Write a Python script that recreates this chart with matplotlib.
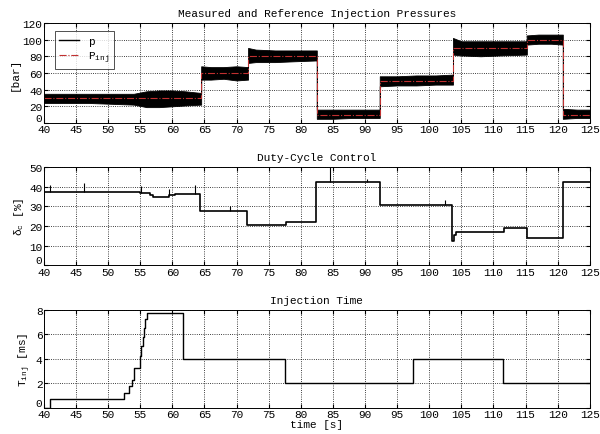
import matplotlib.pyplot as plt
import numpy as np

plt.rcParams['font.family'] = 'Liberation Mono'
plt.rcParams['font.size'] = 8
plt.rcParams['mathtext.fontset'] = 'custom'
plt.rcParams['mathtext.rm'] = 'Liberation Mono'
plt.rcParams['mathtext.it'] = 'Liberation Mono'

# Measured pressure band (low / high envelope) and reference pressure
p_time = [40, 47, 54, 56, 58, 60, 62, 64.5, 64.5, 66, 68, 70, 71.8, 71.8, 73, 76, 79, 82.5,
          82.5, 85, 88, 92.3, 92.3, 95, 98, 101, 103.7, 103.7, 105, 108, 111, 115.2,
          115.2, 117, 119, 120.8, 120.8, 123, 125]
p_low = [24, 24, 22, 19, 19, 20, 21, 22, 52, 52, 53, 51, 52, 72, 73, 73, 74, 75,
         5, 5, 6, 6, 44, 45, 45, 46, 46, 82, 81, 80, 81, 82,
         94, 95, 95, 94, 5, 6, 6]
p_high = [35, 35, 35, 38, 39, 39, 38, 36, 68, 67, 67, 68, 67, 90, 88, 87, 87, 87,
          16, 16, 16, 16, 56, 56, 57, 57, 58, 102, 98, 98, 98, 98,
          105, 106, 106, 106, 17, 16, 16]
ref_time = [40, 64.5, 71.8, 82.5, 92.3, 103.7, 115.2, 120.8, 125]
ref_val = [30, 60, 80, 10, 50, 90, 100, 10, 10]

# Duty-cycle control
d_time = [40, 55, 56.5, 57, 59.5, 60.5, 64.3, 71.7, 77.7, 82.3, 92.3, 103.5, 103.8, 104.2,
          111.7, 115.3, 120.8, 125]
d_val = [37, 36.5, 35.5, 34.5, 35.5, 36, 27.5, 20.5, 22, 42.5, 30.5, 12.5, 15.5, 17,
         19, 14, 42.5, 42.5]
spike_t = [41, 46.2, 55.2, 59.5, 63.5, 69, 84.5, 90.3, 102.5]
spike_base = [37, 37, 36.5, 35.5, 36, 27.5, 42.5, 42.5, 30.5]
spike_top = [41, 42, 40.5, 39, 41, 30, 50, 44, 33]

# Injection time
t_time = [40, 41, 52.5, 53.2, 53.7, 54.1, 54.9, 55.2, 55.4, 55.6, 55.8, 56.0, 61.6,
          77.6, 97.4, 111.5, 125]
t_val = [0, 0.75, 1.25, 1.75, 2.25, 3.25, 4.25, 5.0, 5.75, 6.5, 7.25, 7.75, 4,
         2, 4, 2, 2]

fig = plt.figure(figsize=(6, 4.35), dpi=100)
ax1 = fig.add_axes([0.073, 0.715, 0.91, 0.23])
ax2 = fig.add_axes([0.073, 0.388, 0.91, 0.226])
ax3 = fig.add_axes([0.073, 0.06, 0.91, 0.226])

ax1.fill_between(p_time, p_low, p_high, color='black', lw=0.6)
ax1.plot([], [], color='black', lw=1, label='p')
ax1.step(ref_time, ref_val, where='post', color='#c03030', ls='-.', lw=0.8,
         label='P$_{\\mathrm{inj}}$')
ax1.set_ylim(0, 120)
ax1.set_yticks(np.arange(0, 121, 20))
ax1.set_ylabel('[bar]')
ax1.set_title('Measured and Reference Injection Pressures', fontsize=8, pad=5)
leg = ax1.legend(loc='upper left', fancybox=False, edgecolor='black', fontsize=8,
                 handlelength=1.8, borderpad=0.4, labelspacing=0.3,
                 bbox_to_anchor=(0.01, 0.97))
leg.get_frame().set_linewidth(0.6)

ax2.step(d_time, d_val, where='post', color='black', lw=1.2)
ax2.vlines(spike_t, spike_base, spike_top, color='black', lw=0.8)
ax2.set_ylim(0, 50)
ax2.set_yticks(np.arange(0, 51, 10))
ax2.set_ylabel('$\\delta_c$ [%]')
ax2.set_title('Duty-Cycle Control', fontsize=8, pad=5)

ax3.step(t_time, t_val, where='post', color='black', lw=1)
ax3.set_ylim(0, 8)
ax3.set_yticks(np.arange(0, 9, 2))
ax3.set_ylabel('T$_{\\mathrm{inj}}$ [ms]')
ax3.set_xlabel('time [s]', labelpad=0)
ax3.set_title('Injection Time', fontsize=8, pad=5)

for ax in (ax1, ax2, ax3):
    ax.set_xlim(40, 125)
    ax.set_xticks(np.arange(40, 126, 5))
    ax.grid(True, color='black', ls=':', lw=0.6)
    ax.tick_params(direction='in', top=True, right=True, length=3, pad=1)
    ax.yaxis.labelpad = 2
    for s in ax.spines.values():
        s.set_linewidth(0.7)
    # lift the "0" y tick label above the first x tick label, as in the original
    ax.get_yticklabels()[0].set_va('bottom')

fig.savefig('out.png', dpi=100, facecolor='white')
